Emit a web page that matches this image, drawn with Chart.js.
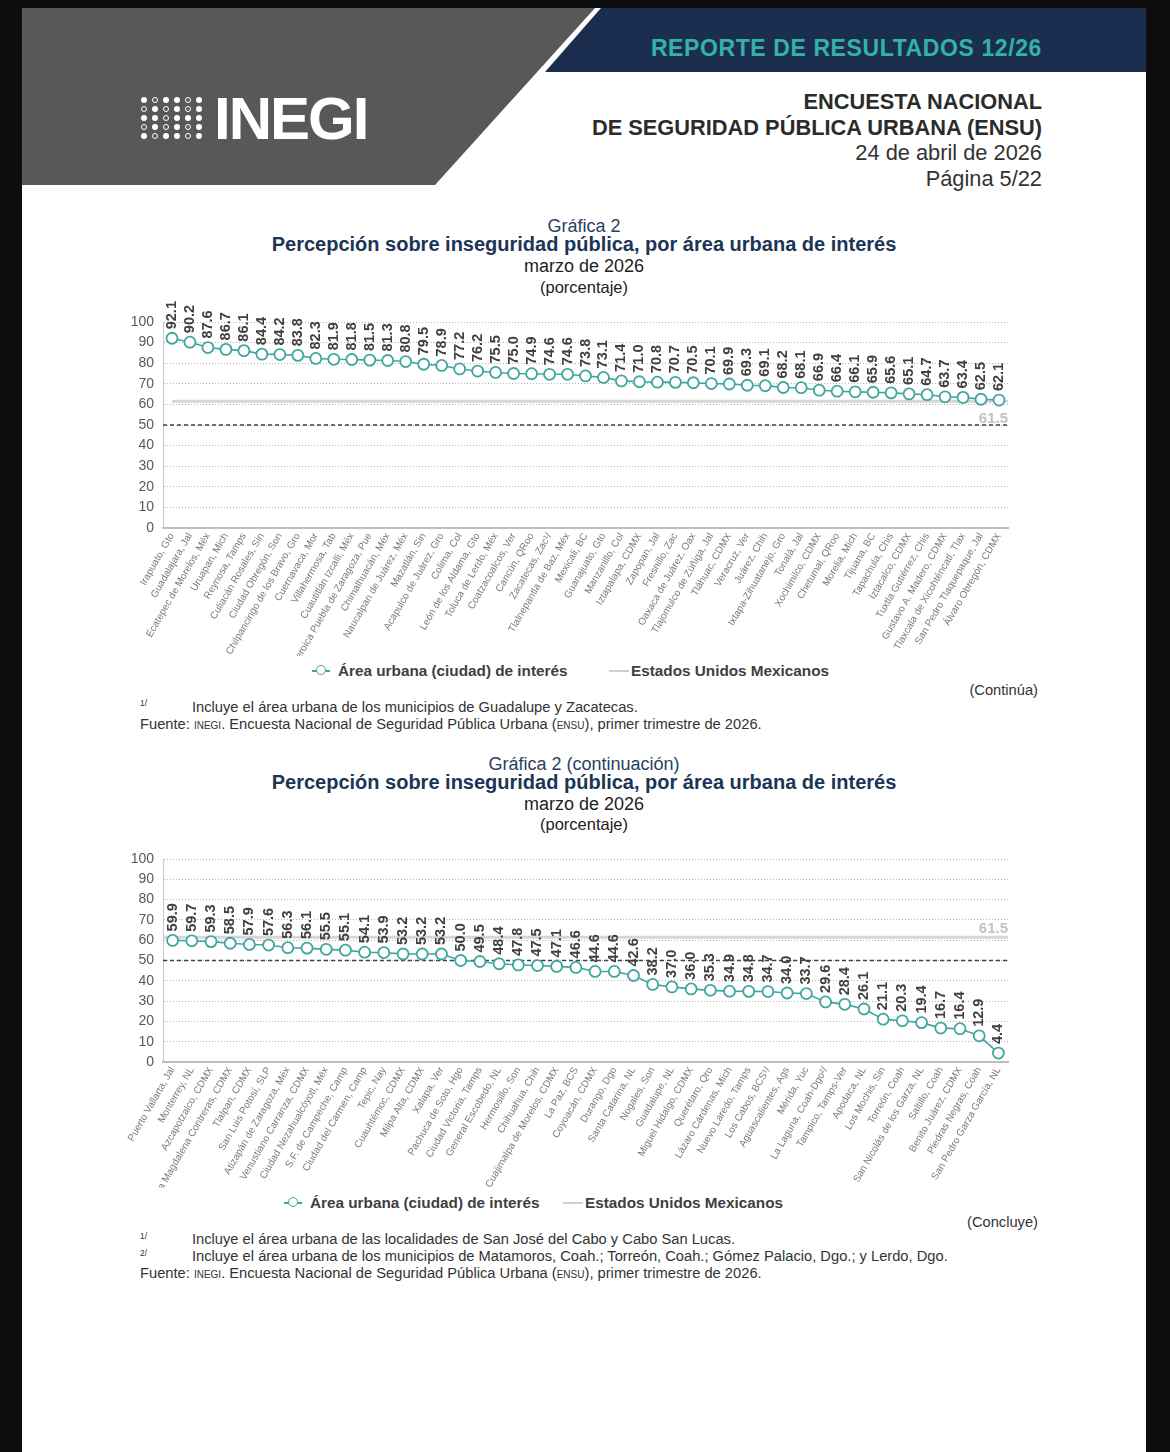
<!DOCTYPE html>
<html lang="es">
<head>
<meta charset="utf-8">
<title>ENSU - Gráfica 2</title>
<script src="https://cdn.jsdelivr.net/npm/chart.js@4.4.1/dist/chart.umd.min.js"></script>
<style>
body{margin:0;background:#0e0e0e;width:1170px;height:1452px;position:relative;overflow:hidden;font-family:'Liberation Sans',Arial,sans-serif;color:#333;}
.abs{position:absolute;white-space:nowrap;}
#page{left:22px;top:8px;width:1124px;height:1444px;background:#fff;}
#grey{left:22px;top:8px;width:573px;height:177px;background:#585858;clip-path:polygon(0 0,100% 0,413px 100%,0 100%);}
#navy{left:545px;top:8px;width:601px;height:64px;background:#1b2e50;clip-path:polygon(56px 0,100% 0,100% 100%,0 100%);}
#reporte{right:128px;top:35px;font-size:23px;font-weight:bold;color:#33b2a8;letter-spacing:0.6px;}
#encabezado{right:128px;top:89px;text-align:right;font-size:21.8px;line-height:25.7px;color:#333;}
#encabezado b{color:#2b2b2b;}
#inegi{left:214px;top:84px;font-size:60px;font-weight:bold;color:#fff;letter-spacing:-2px;}
#dots{left:141px;top:97px;width:70px;height:46px;}
.dot{position:absolute;width:6px;height:6px;border-radius:50%;}
.f{background:#fff;}
.h{border:1.5px solid #fff;width:4px;height:4px;}
.tit{left:22px;width:1124px;text-align:center;}
.g{font-size:18px;color:#2a3f5f;}
.t{font-size:20px;font-weight:bold;color:#1c3557;}
.m{font-size:18px;color:#222;}
.p{font-size:16.5px;color:#222;}
canvas{position:absolute;}
.leg{font-size:15.3px;font-weight:bold;color:#404040;}
.fn{font-size:14.7px;color:#333;}
.sup{font-size:8.5px;color:#333;}
.sc{font-variant:small-caps;}
</style>
</head>
<body>
<div id="page" class="abs"></div>
<div id="grey" class="abs"></div>
<div id="navy" class="abs"></div>
<div id="reporte" class="abs">REPORTE DE RESULTADOS 12/26</div>
<div id="dots" class="abs"></div>
<div id="inegi" class="abs">INEGI</div>
<div id="encabezado" class="abs"><b>ENCUESTA NACIONAL</b><br><b>DE SEGURIDAD PÚBLICA URBANA (ENSU)</b><br>24 de abril de 2026<br>Página 5/22</div>

<div class="abs tit g" style="top:216px">Gráfica 2</div>
<div class="abs tit t" style="top:233px">Percepción sobre inseguridad pública, por área urbana de interés</div>
<div class="abs tit m" style="top:256px">marzo de 2026</div>
<div class="abs tit p" style="top:278px">(porcentaje)</div>
<canvas id="chart1" width="930" height="356" style="left:100px;top:300px"></canvas>
<div id="legend1"></div>
<div class="abs fn" style="right:132px;top:682px">(Continúa)</div>
<div class="abs sup" style="left:140px;top:698px">1/</div>
<div class="abs fn" style="left:192px;top:699px">Incluye el área urbana de los municipios de Guadalupe y Zacatecas.</div>
<div class="abs fn" style="left:140px;top:716px">Fuente: <span class="sc">inegi</span>. Encuesta Nacional de Seguridad Pública Urbana (<span class="sc">ensu</span>), primer trimestre de 2026.</div>

<div class="abs tit g" style="top:754px">Gráfica 2 (continuación)</div>
<div class="abs tit t" style="top:771px">Percepción sobre inseguridad pública, por área urbana de interés</div>
<div class="abs tit m" style="top:794px">marzo de 2026</div>
<div class="abs tit p" style="top:815px">(porcentaje)</div>
<canvas id="chart2" width="930" height="351" style="left:100px;top:837px"></canvas>
<div id="legend2"></div>
<div class="abs fn" style="right:132px;top:1214px">(Concluye)</div>
<div class="abs sup" style="left:140px;top:1231px">1/</div>
<div class="abs fn" style="left:192px;top:1231px">Incluye el área urbana de las localidades de San José del Cabo y Cabo San Lucas.</div>
<div class="abs sup" style="left:140px;top:1248px">2/</div>
<div class="abs fn" style="left:192px;top:1248px">Incluye el área urbana de los municipios de Matamoros, Coah.; Torreón, Coah.; Gómez Palacio, Dgo.; y Lerdo, Dgo.</div>
<div class="abs fn" style="left:140px;top:1265px">Fuente: <span class="sc">inegi</span>. Encuesta Nacional de Seguridad Pública Urbana (<span class="sc">ensu</span>), primer trimestre de 2026.</div>

<script>
/* datos: gráfica 2 (primera parte) */
const ciudades1 = [
  'Irapuato, Gto', 'Guadalajara, Jal', 'Ecatepec de Morelos, Méx', 'Uruapan, Mich', 'Reynosa, Tamps',
  'Culiacán Rosales, Sin', 'Ciudad Obregón, Son', 'Chilpancingo de los Bravo, Gro', 'Cuernavaca, Mor',
  'Villahermosa, Tab', 'Cuautitlán Izcalli, Méx', 'Heroica Puebla de Zaragoza, Pue', 'Chimalhuacán, Méx',
  'Naucalpan de Juárez, Méx', 'Mazatlán, Sin', 'Acapulco de Juárez, Gro', 'Colima, Col',
  'León de los Aldama, Gto', 'Toluca de Lerdo, Méx', 'Coatzacoalcos, Ver', 'Cancún, QRoo',
  'Zacatecas, Zac¹/', 'Tlalnepantla de Baz, Méx', 'Mexicali, BC', 'Guanajuato, Gto', 'Manzanillo, Col',
  'Iztapalapa, CDMX', 'Zapopan, Jal', 'Fresnillo, Zac', 'Oaxaca de Juárez, Oax', 'Tlajomulco de Zúñiga, Jal',
  'Tláhuac, CDMX', 'Veracruz, Ver', 'Juárez, Chih', 'Ixtapa-Zihuatanejo, Gro', 'Tonalá, Jal',
  'Xochimilco, CDMX', 'Chetumal, QRoo', 'Morelia, Mich', 'Tijuana, BC', 'Tapachula, Chis',
  'Iztacalco, CDMX', 'Tuxtla Gutiérrez, Chis', 'Gustavo A. Madero, CDMX', 'Tlaxcala de Xicohténcatl, Tlax',
  'San Pedro Tlaquepaque, Jal', 'Álvaro Obregón, CDMX'
];
const valores1 = [
  92.1, 90.2, 87.6, 86.7, 86.1, 84.4, 84.2, 83.8, 82.3, 81.9, 81.8, 81.5, 81.3, 80.8, 79.5, 78.9,
  77.2, 76.2, 75.5, 75.0, 74.9, 74.6, 74.6, 73.8, 73.1, 71.4, 71.0, 70.8, 70.7, 70.5, 70.1, 69.9,
  69.3, 69.1, 68.2, 68.1, 66.9, 66.4, 66.1, 65.9, 65.6, 65.1, 64.7, 63.7, 63.4, 62.5, 62.1
];

/* datos: continuación */
const ciudades2 = [
  'Puerto Vallarta, Jal', 'Monterrey, NL', 'Azcapotzalco, CDMX', 'La Magdalena Contreras, CDMX',
  'Tlalpan, CDMX', 'San Luis Potosí, SLP', 'Atizapán de Zaragoza, Méx', 'Venustiano Carranza, CDMX',
  'Ciudad Nezahualcóyotl, Méx', 'S.F. de Campeche, Camp', 'Ciudad del Carmen, Camp', 'Tepic, Nay',
  'Cuauhtémoc, CDMX', 'Milpa Alta, CDMX', 'Xalapa, Ver', 'Pachuca de Soto, Hgo', 'Ciudad Victoria, Tamps',
  'General Escobedo, NL', 'Hermosillo, Son', 'Chihuahua, Chih', 'Cuajimalpa de Morelos, CDMX',
  'La Paz, BCS', 'Coyoacán, CDMX', 'Durango, Dgo', 'Santa Catarina, NL', 'Nogales, Son',
  'Guadalupe, NL', 'Miguel Hidalgo, CDMX', 'Querétaro, Qro', 'Lázaro Cárdenas, Mich',
  'Nuevo Laredo, Tamps', 'Los Cabos, BCS¹/', 'Aguascalientes, Ags', 'Mérida, Yuc',
  'La Laguna, Coah-Dgo²/', 'Tampico, Tamps-Ver', 'Apodaca, NL', 'Los Mochis, Sin', 'Torreón, Coah',
  'San Nicolás de los Garza, NL', 'Saltillo, Coah', 'Benito Juárez, CDMX', 'Piedras Negras, Coah',
  'San Pedro Garza García, NL'
];
const valores2 = [
  59.9, 59.7, 59.3, 58.5, 57.9, 57.6, 56.3, 56.1, 55.5, 55.1, 54.1, 53.9, 53.2, 53.2, 53.2, 50.0,
  49.5, 48.4, 47.8, 47.5, 47.1, 46.6, 44.6, 44.6, 42.6, 38.2, 37.0, 36.0, 35.3, 34.9, 34.8, 34.7,
  34.0, 33.7, 29.6, 28.4, 26.1, 21.1, 20.3, 19.4, 16.7, 16.4, 12.9, 4.4
];

const nacional = 61.5;   // Estados Unidos Mexicanos
const umbral = 50;
const yMin = 0, yMax = 100, yStep = 10;

const TEAL = '#3fa79e';
const FONT = "'Liberation Sans', Arial, sans-serif";

/* logo: puntos */
const dotsBox = document.getElementById('dots');
const patron = ['fhffhf', 'hfhfhf', 'ffhfff', 'hfhfhf', 'fhffhf'];
patron.forEach((fila, r) => {
  fila.split('').forEach((c, k) => {
    const d = document.createElement('div');
    d.className = 'dot ' + c;
    d.style.left = (k * 11) + 'px';
    d.style.top = (r * 9) + 'px';
    dotsBox.appendChild(d);
  });
});

/* leyenda en html */
function legend(id, top, x1, x2){
  const el = document.getElementById(id);
  el.innerHTML =
    `<div class="abs" style="left:${x1 - 26}px;top:${top + 8}px;width:18px;height:2px;background:${TEAL}"></div>` +
    `<div class="abs" style="left:${x1 - 22}px;top:${top + 3}px;width:8px;height:8px;border:1.8px solid ${TEAL};border-radius:50%;background:#fff"></div>` +
    `<div class="abs leg" style="left:${x1}px;top:${top}px">Área urbana (ciudad) de interés</div>` +
    `<div class="abs" style="left:${x2 - 22}px;top:${top + 8}px;width:20px;height:2px;background:#cfcfcf"></div>` +
    `<div class="abs leg" style="left:${x2}px;top:${top}px">Estados Unidos Mexicanos</div>`;
}
legend('legend1', 662, 338, 631);
legend('legend2', 1194, 310, 585);

/* lineas de referencia: nacional y 50% */
const refLines = {
  id: 'refLines',
  beforeDatasetsDraw(chart, args, opts){
    const {ctx, chartArea: a, scales: {y}} = chart;
    const yn = y.getPixelForValue(nacional);
    const yu = y.getPixelForValue(umbral);
    ctx.save();
    ctx.strokeStyle = '#d6d6d6';
    ctx.lineWidth = 3;
    ctx.beginPath();
    ctx.moveTo(a.left + (opts.startOffset || 0), yn);
    ctx.lineTo(a.right, yn);
    ctx.stroke();

    ctx.strokeStyle = '#2e4563';
    ctx.lineWidth = 1.5;
    ctx.setLineDash([4, 3]);
    ctx.beginPath();
    ctx.moveTo(a.left, yu);
    ctx.lineTo(a.right, yu);
    ctx.stroke();
    ctx.setLineDash([]);

    ctx.font = 'bold 15px ' + FONT;
    ctx.fillStyle = '#c2c2c2';
    ctx.textAlign = 'right';
    if(opts.below){
      ctx.textBaseline = 'top';
      ctx.fillText(nacional.toFixed(1), a.right, yn + 10);
    } else {
      ctx.textBaseline = 'bottom';
      ctx.fillText(nacional.toFixed(1), a.right, yn - 1);
    }
    ctx.restore();
  }
};

/* etiquetas de valor verticales */
const valueLabels = {
  id: 'valueLabels',
  afterDatasetsDraw(chart){
    const ctx = chart.ctx;
    const meta = chart.getDatasetMeta(0);
    const vals = chart.data.datasets[0].data;
    ctx.save();
    ctx.font = 'bold 14.5px ' + FONT;
    ctx.fillStyle = '#404040';
    ctx.textAlign = 'left';
    ctx.textBaseline = 'middle';
    meta.data.forEach((pt, i) => {
      ctx.save();
      ctx.translate(pt.x, pt.y - 9);
      ctx.rotate(-Math.PI / 2);
      ctx.fillText(vals[i].toFixed(1), 0, 0);
      ctx.restore();
    });
    ctx.restore();
  }
};

function makeChart(id, labels, data, xHeight, refOpts){
  return new Chart(document.getElementById(id), {
    type: 'line',
    data: {
      labels: labels,
      datasets: [{
        label: 'Área urbana (ciudad) de interés',
        data: data,
        borderColor: TEAL,
        borderWidth: 1.6,
        pointRadius: 5.5,
        pointBorderWidth: 1.8,
        pointBorderColor: TEAL,
        pointBackgroundColor: '#fff',
        tension: 0
      }]
    },
    options: {
      responsive: false,
      animation: false,
      layout: {padding: {top: 22, right: 22, left: 0, bottom: 0}},
      plugins: {
        legend: {display: false},
        tooltip: {enabled: false},
        refLines: refOpts
      },
      scales: {
        x: {
          offset: true,
          grid: {display: false, drawTicks: false},
          border: {color: '#bfbfbf', width: 2},
          ticks: {
            autoSkip: false,
            minRotation: 60,
            maxRotation: 60,
            padding: 3,
            color: '#7a7a7a',
            font: {family: FONT, size: 10}
          },
          afterFit: s => { s.height = xHeight; }
        },
        y: {
          min: yMin,
          max: yMax,
          grid: {color: '#b5b5b5', lineWidth: 1, drawTicks: false},
          border: {color: '#c8c8c8', width: 1, dash: [1, 2]},
          ticks: {
            stepSize: yStep,
            padding: 9,
            color: '#595959',
            font: {family: FONT, size: 14}
          },
          afterFit: s => { s.width = 63; }
        }
      }
    },
    plugins: [refLines, valueLabels]
  });
}

makeChart('chart1', ciudades1, valores1, 128, {below: true, startOffset: 9});
makeChart('chart2', ciudades2, valores2, 126, {below: false, startOffset: 0});
</script>
</body>
</html>
